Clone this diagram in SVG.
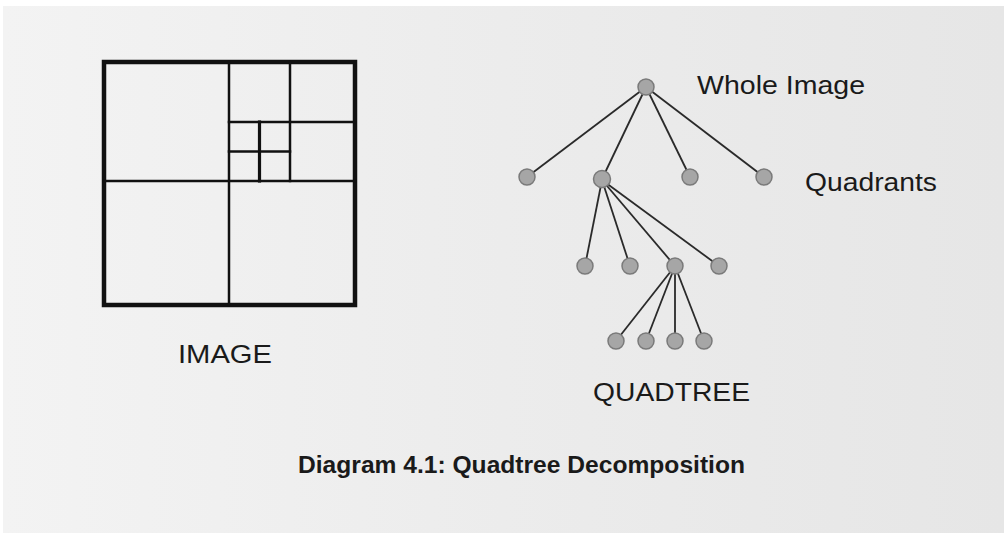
<svg xmlns="http://www.w3.org/2000/svg" width="1004" height="537" viewBox="0 0 1004 537">
  <defs>
    <linearGradient id="bg" x1="0" y1="0" x2="1" y2="0">
      <stop offset="0" stop-color="#f3f3f3"/>
      <stop offset="0.5" stop-color="#ececec"/>
      <stop offset="1" stop-color="#e6e6e6"/>
    </linearGradient>
    <style>
      .grid { fill: none; stroke: #111; stroke-linecap: square; }
      .edge { stroke: #2a2a2a; stroke-width: 1.8; fill: none; }
      .node { fill: #a6a6a6; stroke: #7a7a7a; stroke-width: 1.5; }
      .lbl { font-family: "Liberation Sans", Arial, sans-serif; font-size: 25px; fill: #1a1a1a; }
      .cap { font-family: "Liberation Sans", Arial, sans-serif; font-size: 23px; font-weight: bold; fill: #1a1a1a; }
    </style>
  </defs>

  <!-- page -->
  <rect x="0" y="0" width="1004" height="537" fill="#ffffff"/>
  <rect x="3" y="6" width="1001" height="527" fill="url(#bg)"/>

  <!-- quadtree subdivision of the image -->
  <g id="image-grid">
    <rect class="grid" x="104" y="62" width="251" height="243" stroke-width="4.5"/>
    <line class="grid" x1="229" y1="62" x2="229" y2="305" stroke-width="2.5"/>
    <line class="grid" x1="104" y1="181" x2="355" y2="181" stroke-width="2.5"/>
    <line class="grid" x1="290" y1="62" x2="290" y2="181" stroke-width="2.5"/>
    <line class="grid" x1="229" y1="122" x2="355" y2="122" stroke-width="2.5"/>
    <line class="grid" x1="259.5" y1="122" x2="259.5" y2="181" stroke-width="3.2"/>
    <line class="grid" x1="229" y1="151.5" x2="290" y2="151.5" stroke-width="2.5"/>
  </g>

  <!-- tree connectors -->
  <g id="connectors">
    <line class="edge" x1="646" y1="87" x2="527" y2="177"/>
    <line class="edge" x1="646" y1="87" x2="602" y2="179"/>
    <line class="edge" x1="646" y1="87" x2="690" y2="177"/>
    <line class="edge" x1="646" y1="87" x2="764" y2="177"/>
    <line class="edge" x1="602" y1="180" x2="585" y2="266"/>
    <line class="edge" x1="602" y1="180" x2="630" y2="266"/>
    <line class="edge" x1="602" y1="180" x2="675" y2="266"/>
    <line class="edge" x1="602" y1="180" x2="719" y2="266"/>
    <line class="edge" x1="675" y1="266" x2="616" y2="341"/>
    <line class="edge" x1="675" y1="266" x2="646" y2="341"/>
    <line class="edge" x1="675" y1="266" x2="675" y2="341"/>
    <line class="edge" x1="675" y1="266" x2="704" y2="341"/>
  </g>

  <!-- tree nodes -->
  <g id="root"><circle class="node" cx="646" cy="87" r="8"/></g>
  <g id="q1"><circle class="node" cx="527" cy="177" r="8"/></g>
  <g id="q2"><circle class="node" cx="602" cy="179" r="8.5"/></g>
  <g id="q3"><circle class="node" cx="690" cy="177" r="8"/></g>
  <g id="q4"><circle class="node" cx="764" cy="177" r="8"/></g>
  <g id="q2-1"><circle class="node" cx="585" cy="266" r="8"/></g>
  <g id="q2-2"><circle class="node" cx="630" cy="266" r="8"/></g>
  <g id="q2-3"><circle class="node" cx="675" cy="266" r="8"/></g>
  <g id="q2-4"><circle class="node" cx="719" cy="266" r="8"/></g>
  <g id="q2-3-1"><circle class="node" cx="616" cy="341" r="8"/></g>
  <g id="q2-3-2"><circle class="node" cx="646" cy="341" r="8"/></g>
  <g id="q2-3-3"><circle class="node" cx="675" cy="341" r="8"/></g>
  <g id="q2-3-4"><circle class="node" cx="704" cy="341" r="8"/></g>

  <!-- labels -->
  <g id="labels">
    <text class="lbl" x="697" y="94" textLength="168" lengthAdjust="spacingAndGlyphs">Whole Image</text>
    <text class="lbl" x="805" y="191" textLength="132" lengthAdjust="spacingAndGlyphs">Quadrants</text>
    <text class="lbl" x="178" y="363" textLength="94" lengthAdjust="spacingAndGlyphs">IMAGE</text>
    <text class="lbl" x="593" y="401" textLength="157" lengthAdjust="spacingAndGlyphs">QUADTREE</text>
    <text class="cap" x="298" y="473" textLength="447" lengthAdjust="spacingAndGlyphs">Diagram 4.1: Quadtree Decomposition</text>
  </g>
</svg>
